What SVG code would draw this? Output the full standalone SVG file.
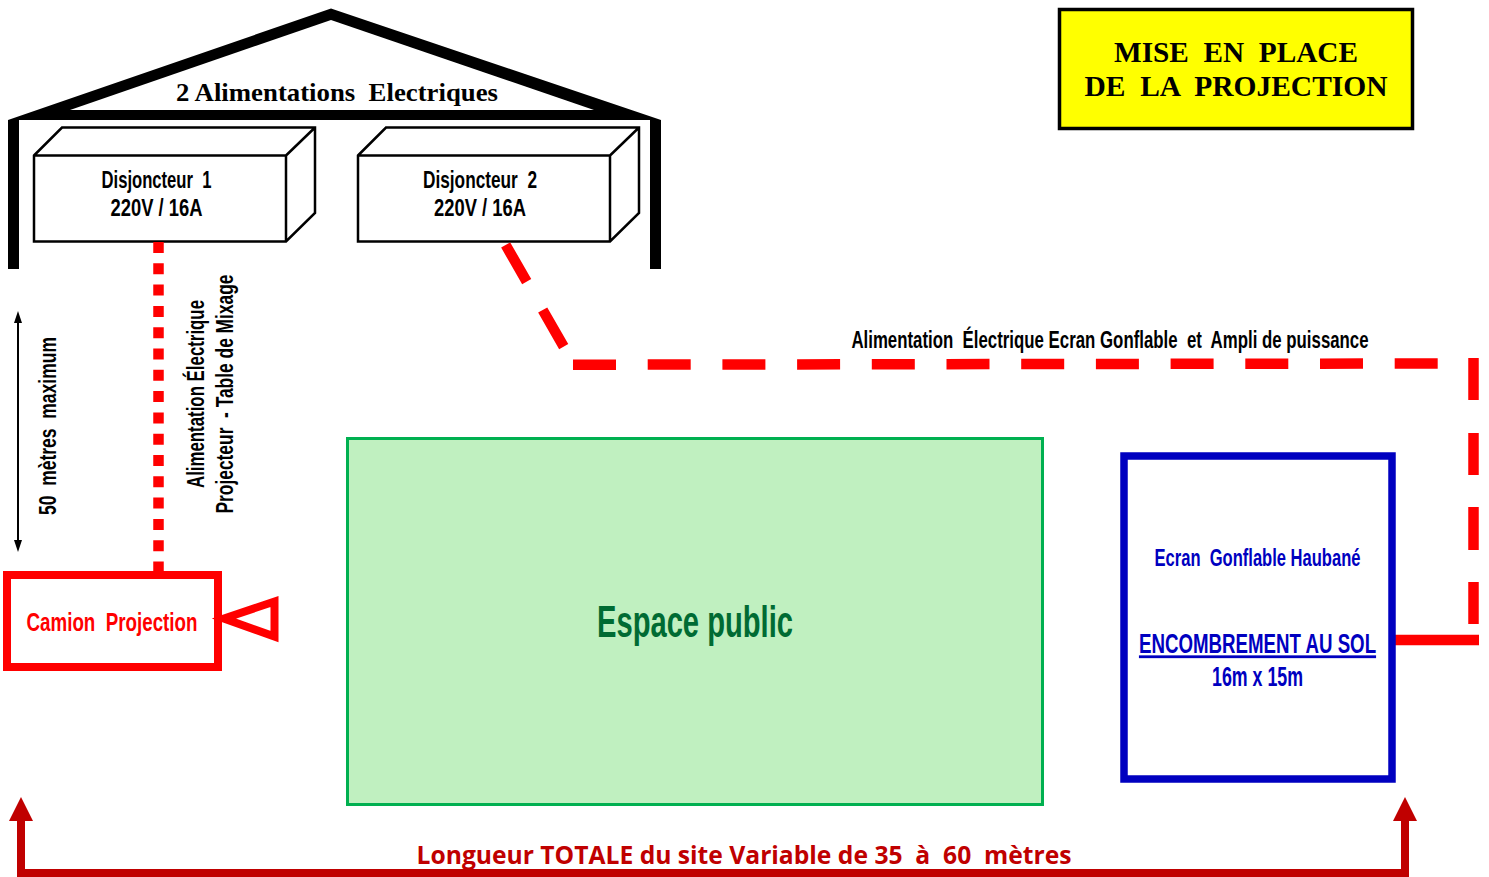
<svg xmlns="http://www.w3.org/2000/svg" width="1489" height="877" viewBox="0 0 1489 877">
<style>
text{white-space:pre;text-anchor:middle}
.c{font-family:"Liberation Sans",Arial,sans-serif;font-weight:700;fill:#000}
.s{font-family:"Liberation Serif","Times New Roman",serif;font-weight:700;fill:#000}
.k{fill:#fff;stroke:#000;stroke-width:2.500;stroke-linejoin:miter}
.r{fill:none;stroke:#f00;stroke-width:10.500}
.d{fill:none;stroke:#c00000;stroke-width:8}
</style>
<rect width="1489" height="877" fill="#fff"/>
<g id="building">
<path d="M331 8.500L661 120V269H650V120H19V269H8V120Z" fill="#000"/>
<path d="M331 20L594 110H70Z" fill="#fff"/>
<text class="s" x="337" y="100.500" font-size="25.500" textLength="322" lengthAdjust="spacingAndGlyphs">2 Alimentations  Electriques</text>
</g>
<g id="disjoncteur-1">
<path class="k" d="M34 155.500L62 127.500H315V213L286 241.500H34ZM34 155.500H286V241.500M286 155.500L315 127.500"/>
<text class="c" x="156.500" y="188" font-size="24" textLength="110" lengthAdjust="spacingAndGlyphs">Disjoncteur  1</text>
<text class="c" x="156.500" y="216" font-size="24" textLength="92" lengthAdjust="spacingAndGlyphs">220V / 16A</text>
</g>
<g id="disjoncteur-2">
<path class="k" d="M358 155.500L386 127.500H639V213L610 241.500H358ZM358 155.500H610V241.500M610 155.500L639 127.500"/>
<text class="c" x="480" y="188" font-size="24" textLength="114" lengthAdjust="spacingAndGlyphs">Disjoncteur  2</text>
<text class="c" x="480" y="216" font-size="24" textLength="92" lengthAdjust="spacingAndGlyphs">220V / 16A</text>
</g>
<g id="connectors">
<path class="r" d="M158.500 242V572" stroke-dasharray="11 10.300"/>
<path class="r" d="M505.700 245L526.700 281.700M542.700 310L563.700 346.700"/>
<path class="r" d="M573 364.700L1438 363.500" stroke-dasharray="43 31.700"/>
<path class="r" d="M1473.500 358V400M1473.500 433V475M1473.500 507V550M1473.500 582V624"/>
<path d="M1395 640H1479" fill="none" stroke="#f00" stroke-width="10.500"/>
<path d="M18 322V541" stroke="#000" stroke-width="2" fill="none"/>
<path d="M18 311L22 323H14ZM18 552L22 540H14Z" fill="#000"/>
<path class="d" d="M21 820V873H1405V820"/>
<path d="M21 797L33 821H9ZM1405 797L1417 821H1393Z" fill="#c00000"/>
</g>
<g id="labels">
<text class="c" transform="translate(56 426) rotate(-90)" font-size="24" textLength="178" lengthAdjust="spacingAndGlyphs">50  mètres  maximum</text>
<text class="c" transform="translate(204 394) rotate(-90)" font-size="24" textLength="188" lengthAdjust="spacingAndGlyphs">Alimentation Électrique</text>
<text class="c" transform="translate(233 394) rotate(-90)" font-size="24" textLength="239" lengthAdjust="spacingAndGlyphs">Projecteur  - Table de Mixage</text>
<text class="c" transform="translate(1110 347.500) scale(.701 1)" font-size="24">Alimentation  Électrique Ecran Gonflable  et  Ampli de puissance</text>
<text x="744" y="864" font-family="'Open Sans','Liberation Sans',sans-serif" font-weight="700" font-size="25.500" fill="#c00000" textLength="655" lengthAdjust="spacingAndGlyphs">Longueur TOTALE du site Variable de 35  à  60  mètres</text>
</g>
<g id="camion">
<rect x="7" y="575" width="211" height="92" fill="#fff" stroke="#f00" stroke-width="8"/>
<path d="M224 618.500L274.500 601.500V636.500Z" fill="#fff" stroke="#f00" stroke-width="8"/>
<text class="c" x="112" y="631" font-size="26" style="fill:#f00" textLength="171" lengthAdjust="spacingAndGlyphs">Camion  Projection</text>
</g>
<g id="espace-public">
<rect x="347.500" y="438.500" width="695" height="366" fill="#c0f0c0" stroke="#00b050" stroke-width="3"/>
<text class="c" x="695" y="637" font-size="44" style="fill:#006b33" textLength="196" lengthAdjust="spacingAndGlyphs">Espace public</text>
</g>
<g id="ecran">
<rect x="1124" y="456" width="268" height="323" fill="#fff" stroke="#0000c0" stroke-width="7.500"/>
<text class="c" x="1257.500" y="566" font-size="24" style="fill:#0000c0" textLength="206" lengthAdjust="spacingAndGlyphs">Ecran  Gonflable Haubané</text>
<text class="c" transform="translate(1257.500 653) scale(.668 1)" font-size="28" style="fill:#0000c0;text-decoration:underline">ENCOMBREMENT AU SOL</text>
<text class="c" x="1257.500" y="686" font-size="28" style="fill:#0000c0" textLength="91" lengthAdjust="spacingAndGlyphs">16m x 15m</text>
</g>
<g id="titre">
<rect x="1059.500" y="9.500" width="353" height="119" fill="#ff0" stroke="#000" stroke-width="3.500"/>
<text class="s" x="1236" y="62" font-size="30" textLength="244" lengthAdjust="spacingAndGlyphs">MISE  EN  PLACE</text>
<text class="s" x="1236" y="96" font-size="30" textLength="303" lengthAdjust="spacingAndGlyphs">DE  LA  PROJECTION</text>
</g>
</svg>
